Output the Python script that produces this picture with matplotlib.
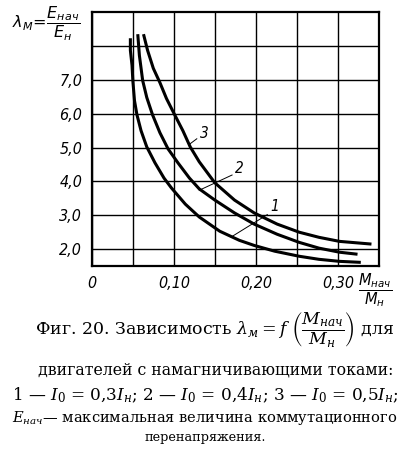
import matplotlib
matplotlib.use("Agg")
import matplotlib.pyplot as plt

# curves: M_nach/M_n -> lambda_M
c1x = [0.047, 0.047, 0.049, 0.050, 0.052, 0.055, 0.060, 0.067, 0.077, 0.088, 0.097,
       0.114, 0.131, 0.156, 0.180, 0.198, 0.223, 0.253, 0.277, 0.302, 0.328]
c1y = [8.23, 7.87, 7.43, 6.98, 6.39, 5.97, 5.50, 5.02, 4.55, 4.10, 3.81,
       3.33, 2.95, 2.53, 2.26, 2.11, 1.94, 1.79, 1.70, 1.64, 1.61]
c2x = [0.056, 0.058, 0.062, 0.067, 0.074, 0.083, 0.093, 0.105, 0.119, 0.131,
       0.150, 0.174, 0.198, 0.226, 0.253, 0.277, 0.302, 0.324]
c2y = [8.35, 7.72, 6.98, 6.48, 5.97, 5.44, 4.96, 4.55, 4.10, 3.78,
       3.45, 3.07, 2.74, 2.44, 2.20, 2.03, 1.91, 1.85]
c3x = [0.063, 0.068, 0.075, 0.083, 0.091, 0.101, 0.111, 0.120, 0.131,
       0.150, 0.174, 0.198, 0.226, 0.253, 0.277, 0.302, 0.341]
c3y = [8.35, 7.87, 7.34, 6.92, 6.45, 5.97, 5.50, 5.02, 4.58,
       3.96, 3.45, 3.07, 2.74, 2.50, 2.35, 2.23, 2.15]

xticks = [0, 0.05, 0.10, 0.15, 0.20, 0.25, 0.30, 0.35]
xlabels = ["0", "", "0,10", "", "0,20", "", "0,30", ""]
yticks = [2, 3, 4, 5, 6, 7, 8]
ylabels = ["2,0", "3,0", "4,0", "5,0", "6,0", "7,0", ""]

# curve number, label position, leader start, leader end
marks = [("1", 0.223, 3.27, (0.214, 3.02), (0.170, 2.36)),
         ("2", 0.180, 4.37, (0.171, 4.19), (0.131, 3.74)),
         ("3", 0.137, 5.41, (0.128, 5.26), (0.118, 5.08))]

fig = plt.figure(figsize=(4.10, 4.51), dpi=100)
ax = fig.add_axes([0.224, 0.410, 0.700, 0.563])

ax.plot(c1x, c1y, color="black", lw=2.2, solid_capstyle="butt")
ax.plot(c2x, c2y, color="black", lw=2.2, solid_capstyle="butt")
ax.plot(c3x, c3y, color="black", lw=2.2, solid_capstyle="butt")

for num, tx, ty, p0, p1 in marks:
    ax.plot([p0[0], p1[0]], [p0[1], p1[1]], color="black", lw=0.7)
    ax.text(tx, ty, num, fontsize=11, style="italic", ha="center", va="center",
            family="DejaVu Sans", fontstretch="condensed")

ax.set_xlim(0, 0.35)
ax.set_ylim(1.5, 9.0)
ax.set_xticks(xticks)
ax.set_xticklabels(xlabels)
ax.set_yticks(yticks)
ax.set_yticklabels(ylabels)
ax.tick_params(length=0, pad=7, labelsize=11.5)
for lab in ax.get_xticklabels() + ax.get_yticklabels():
    lab.set_fontstyle("italic")
    lab.set_fontstretch("condensed")
ax.grid(True, color="black", lw=1.0)
for s in ax.spines.values():
    s.set_linewidth(1.6)

fig.text(0.112, 0.948, r"$\lambda_M\!=\!\dfrac{E_{нач}}{E_н}$", fontsize=11.5,
         ha="center", va="center")
fig.text(0.914, 0.358, r"$\dfrac{M_{нач}}{M_н}$", fontsize=10.5,
         ha="center", va="center")

# caption
serif = ["DejaVu Serif"]
fig.text(0.525, 0.268,
         r"Фиг. 20. Зависимость $\lambda_м = f\ \left(\dfrac{M_{нач}}{M_н}\right)$ для",
         fontsize=12.5, ha="center", va="center", family=serif,
         math_fontfamily="dejavuserif")
fig.text(0.527, 0.180, "двигателей с намагничивающими токами:", fontsize=11.3,
         ha="center", va="center", family=serif)
fig.text(0.5, 0.124,
         r"1 — $I_0$ = 0,3$I_н$; 2 — $I_0$ = 0,4$I_н$; 3 — $I_0$ = 0,5$I_н$;",
         fontsize=12.2, ha="center", va="center", family=serif,
         math_fontfamily="dejavuserif")
fig.text(0.5, 0.073, r"$E_{нач}$— максимальная величина коммутационного",
         fontsize=10.5, ha="center", va="center", family=serif,
         math_fontfamily="dejavuserif")
fig.text(0.5, 0.031, "перенапряжения.", fontsize=9.2, ha="center", va="center",
         family=serif)

fig.savefig("out.png", dpi=100)
